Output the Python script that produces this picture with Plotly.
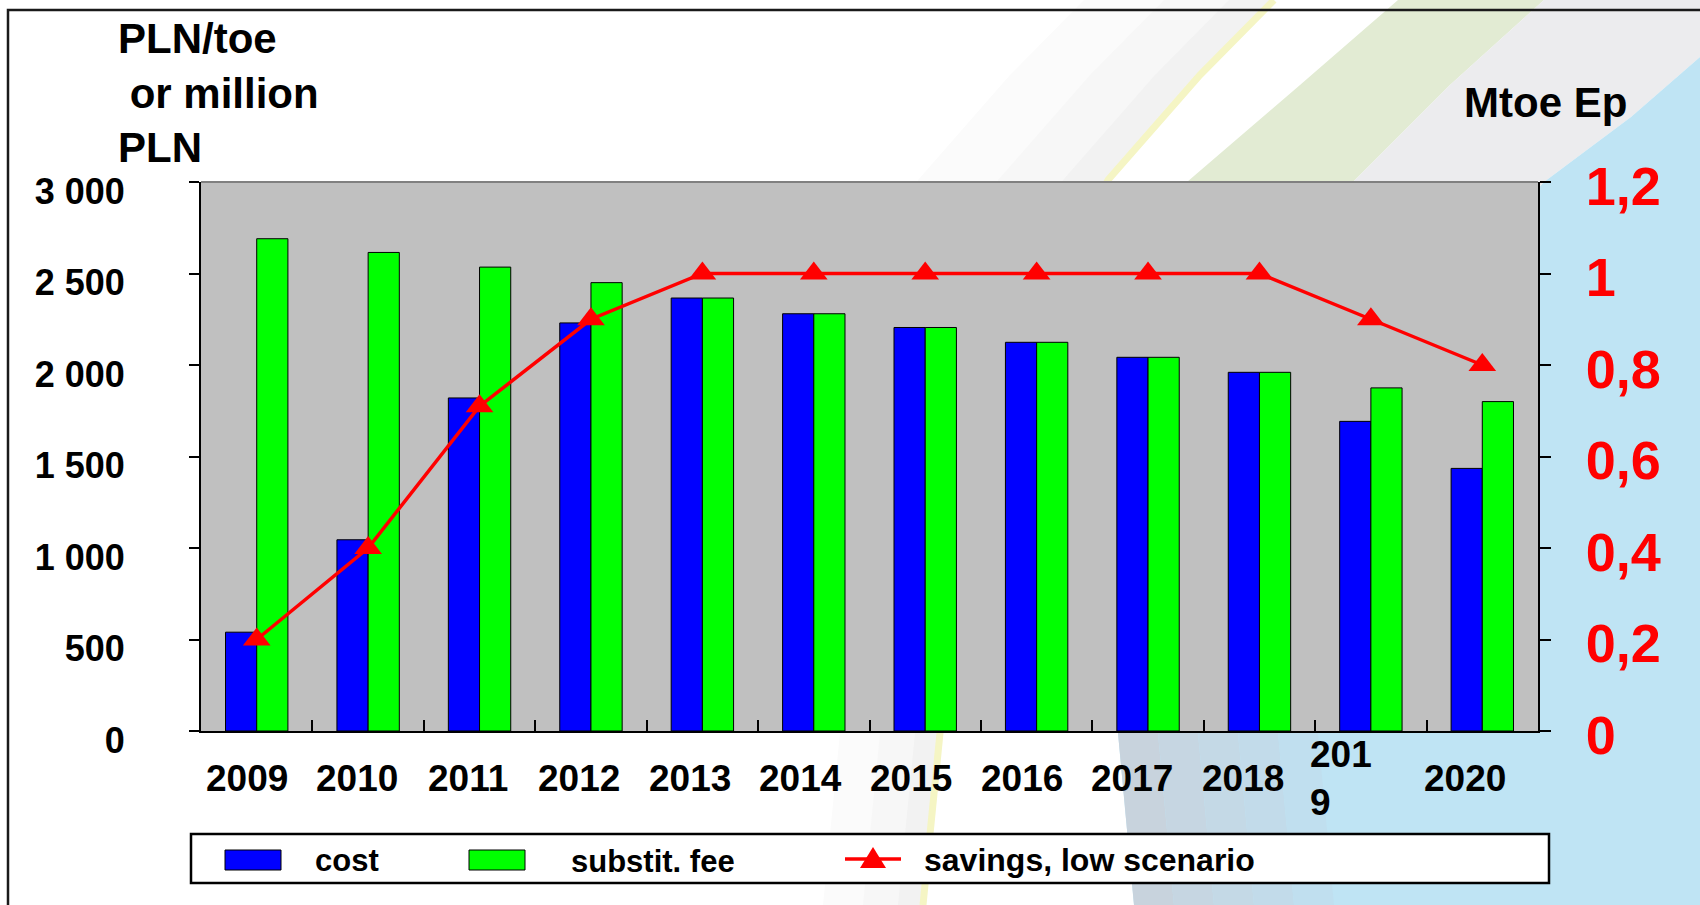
import plotly.graph_objects as go

# ---------------- data ----------------
years = ["2009", "2010", "2011", "2012", "2013", "2014", "2015", "2016", "2017", "2018", "2019", "2020"]
year_labels = ["2009", "2010", "2011", "2012", "2013", "2014", "2015", "2016", "2017", "2018", "201<br>9", "2020"]
cost = [540, 1045, 1820, 2230, 2366, 2280, 2205, 2124, 2042, 1960, 1692, 1435]
substit_fee = [2690, 2615, 2535, 2450, 2366, 2280, 2205, 2124, 2042, 1960, 1875, 1800]
savings_low = [0.2, 0.4, 0.71, 0.9, 1.0, 1.0, 1.0, 1.0, 1.0, 1.0, 0.9, 0.8]

# ---------------- geometry helpers (pixel -> paper) ----------------
W, H = 1700, 905
L, R, T, B = 201, 1538, 182, 731
PW, PH = R - L, B - T


def xp(px):
    return (px - L) / PW


def yp(py):
    return (B - py) / PH


def path(points, close=True):
    s = "M " + " L ".join(f"{xp(x):.5f},{yp(y):.5f}" for x, y in points)
    return s + (" Z" if close else "")


FONT = "Liberation Sans, Arial, sans-serif"

fig = go.Figure()

fig.add_trace(go.Bar(
    x=years, y=cost, name="cost",
    marker=dict(color="#0000ff", line=dict(color="black", width=1)),
    showlegend=False,
))
fig.add_trace(go.Bar(
    x=years, y=substit_fee, name="substit. fee",
    marker=dict(color="#00ff00", line=dict(color="black", width=1)),
    showlegend=False,
))
fig.add_trace(go.Scatter(
    x=years, y=savings_low, name="savings, low scenario", yaxis="y2",
    mode="lines+markers",
    line=dict(color="#ff0000", width=3.5),
    marker=dict(symbol="triangle-up", size=24, color="#ff0000"),
    showlegend=False,
))

shapes = []


def bg(points, color):
    shapes.append(dict(type="path", xref="paper", yref="paper", layer="below",
                       path=path(points), fillcolor=color, line=dict(width=0)))


# decorative slide background
yellow_pts = [(1274, 0), (1200, 75), (1108, 180), (1040, 320), (980, 520), (940, 733), (923, 905)]
band_far = [(x - 190, y) for x, y in yellow_pts[:3]] + [(x - 100, y) for x, y in yellow_pts[3:]]
band_mid = [(x - 110, y) for x, y in yellow_pts[:3]] + [(x - 60, y) for x, y in yellow_pts[3:]]
band_near = [(x - 45, y) for x, y in yellow_pts[:3]] + [(x - 25, y) for x, y in yellow_pts[3:]]
bg(yellow_pts + band_far[::-1], "#fbfbfb")
bg(yellow_pts + band_mid[::-1], "#f7f7f7")
bg(yellow_pts + band_near[::-1], "#f2f2f2")
shapes.append(dict(type="path", xref="paper", yref="paper", layer="below",
                   path=path(yellow_pts, close=False), line=dict(color="#f5f5c4", width=7)))
# green swoosh
green_left = [(1398, 0), (1300, 85), (1187, 182), (1100, 420)]
green_right = [(1544, 0), (1450, 85), (1353, 182), (1250, 420)]
bg(green_left + green_right[::-1], "#e2ebd3")
# gray area
blue_edge = [(1700, 57), (1631, 117), (1544, 182), (1300, 450), (1118, 733), (1134, 905)]
bg([(1544, 0), (1700, 0)] + blue_edge[:4] + green_right[::-1], "#ececee")
# blue area with a soft grey-blue edge at the bottom
bg(blue_edge + [(1700, 905)], "#bfe4f4")
edge_cols = ["#c8d3dd", "#c6d6e2", "#c4d9e6", "#c2dbea", "#c0dfef"]
for k, col in enumerate(edge_cols):
    x0a, x1a = 1118 + 40 * k, 1118 + 40 * (k + 1)
    x0b, x1b = 1134 + 40 * k, 1134 + 40 * (k + 1)
    bg([(x0a, 733), (x1a, 733), (x1b, 905), (x0b, 905)], col)

# plot area background
shapes.append(dict(type="rect", xref="paper", yref="paper", layer="below",
                   x0=0, x1=1, y0=0, y1=1, fillcolor="#c0c0c0", line=dict(width=0)))
shapes.append(dict(type="line", xref="paper", yref="paper", layer="below",
                   x0=0, x1=1, y0=1, y1=1, line=dict(color="#808080", width=2)))

# slide frame
shapes.append(dict(type="rect", xref="paper", yref="paper", layer="above",
                   x0=xp(8), x1=xp(1710), y0=yp(10), y1=yp(915),
                   line=dict(color="#1a1a1a", width=2.5), fillcolor="rgba(0,0,0,0)"))

# manual legend
shapes.append(dict(type="rect", xref="paper", yref="paper", layer="above",
                   x0=xp(191), x1=xp(1549), y0=yp(834), y1=yp(883),
                   fillcolor="white", line=dict(color="black", width=2.5)))
shapes.append(dict(type="rect", xref="paper", yref="paper", layer="above",
                   x0=xp(225), x1=xp(281), y0=yp(850), y1=yp(870),
                   fillcolor="#0000ff", line=dict(color="black", width=1)))
shapes.append(dict(type="rect", xref="paper", yref="paper", layer="above",
                   x0=xp(469), x1=xp(525), y0=yp(850), y1=yp(870),
                   fillcolor="#00ff00", line=dict(color="black", width=1)))
shapes.append(dict(type="line", xref="paper", yref="paper", layer="above",
                   x0=xp(845), x1=xp(901), y0=yp(859), y1=yp(859),
                   line=dict(color="#ff0000", width=3.5)))
shapes.append(dict(type="path", xref="paper", yref="paper", layer="above",
                   path=path([(873, 847), (860, 868), (886, 868)]),
                   fillcolor="#ff0000", line=dict(width=0)))

annotations = [
    dict(text="PLN/toe<br>\u00a0or million<br>PLN", xref="paper", yref="paper",
         x=xp(116), y=yp(93), xanchor="left", yanchor="middle", align="left",
         showarrow=False, font=dict(family=FONT, size=42, color="black", weight="bold")),
    dict(text="Mtoe Ep", xref="paper", yref="paper",
         x=xp(1545), y=yp(103), xanchor="center", yanchor="middle",
         showarrow=False, font=dict(family=FONT, size=42, color="black", weight="bold")),
    dict(text="cost", xref="paper", yref="paper", x=xp(313), y=yp(860),
         xanchor="left", yanchor="middle", showarrow=False,
         font=dict(family=FONT, size=31, color="black", weight="bold")),
    dict(text="substit. fee", xref="paper", yref="paper", x=xp(569), y=yp(862),
         xanchor="left", yanchor="middle", showarrow=False,
         font=dict(family=FONT, size=31, color="black", weight="bold")),
    dict(text="savings, low scenario", xref="paper", yref="paper", x=xp(922), y=yp(860),
         xanchor="left", yanchor="middle", showarrow=False,
         font=dict(family=FONT, size=32, color="black", weight="bold")),
]

# category labels, placed on the category axis (by category index)
for i, lab in enumerate(year_labels):
    multi = "<br>" in lab
    annotations.append(dict(
        text=lab, xref="x", yref="paper", x=i, y=yp(778),
        xanchor="center", yanchor="middle", align="left",
        xshift=(-30 if multi else -10 - 0.7 * i), showarrow=False,
        font=dict(family=FONT, size=37, color="black", weight="bold"),
    ))

fig.update_layout(
    width=W, height=H,
    margin=dict(l=L, r=W - R, t=T, b=H - B, pad=0),
    paper_bgcolor="white",
    plot_bgcolor="rgba(0,0,0,0)",
    separators=", ",
    barmode="group",
    bargap=0.44,
    bargroupgap=0,
    showlegend=False,
    shapes=shapes,
    annotations=annotations,
    font=dict(family=FONT, color="black"),
    xaxis=dict(
        type="category", range=[-0.5, 11.5],
        tickson="boundaries", ticks="inside", ticklen=11, tickwidth=1.5, tickcolor="black",
        showticklabels=False,
        showline=True, linecolor="black", linewidth=2,
        showgrid=False, zeroline=False,
    ),
    yaxis=dict(
        range=[0, 3000], dtick=500, tickformat=",",
        ticks="outside", ticklen=10, tickwidth=1.5, tickcolor="black",
        showline=True, linecolor="black", linewidth=2,
        showgrid=False, zeroline=False,
        tickfont=dict(family=FONT, size=36, color="black", weight="bold"),
        ticklabelstandoff=57, ticklabelshift=9,
    ),
    yaxis2=dict(
        range=[0, 1.2], dtick=0.2, overlaying="y", side="right",
        ticks="outside", ticklen=11, tickwidth=1.5, tickcolor="black",
        showline=True, linecolor="black", linewidth=2,
        showgrid=False, zeroline=False,
        tickfont=dict(family=FONT, size=54, color="#ff0000", weight="bold"),
        ticklabelstandoff=24, ticklabelshift=4,
    ),
)

fig.write_html(
    "out.html",
    config={"displayModeBar": False},
    post_script="document.body.style.margin='0';document.body.style.overflow='hidden';",
)
